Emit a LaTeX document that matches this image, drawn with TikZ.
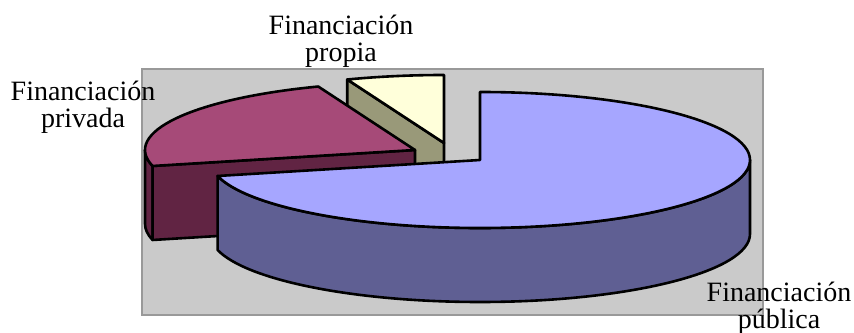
\documentclass[tikz,border=0pt]{standalone}
\usepackage{fontspec}
\setmainfont{Liberation Serif}

\definecolor{pubtop}{HTML}{A6A6FF}
\definecolor{pubside}{HTML}{5F5F93}
\definecolor{privtop}{HTML}{A64A78}
\definecolor{privside}{HTML}{612443}
\definecolor{owntop}{HTML}{FFFFDA}
\definecolor{ownside}{HTML}{999979}
\definecolor{plotgray}{HTML}{CACACA}
\definecolor{framegray}{HTML}{999999}

\tikzset{
  slice/.style={draw=black, line width=2.6pt, line join=round},
  ell/.style={x radius=270, y radius=68},
  lbl/.style={align=center, inner sep=0pt, font=\fontsize{28}{27}\selectfont}
}

\begin{document}
\begin{tikzpicture}[x=1pt, y=1pt]
    \useasboundingbox (0,0) rectangle (854,332);

    \def\dep{74}

    %plot area:
    \filldraw[fill=plotgray, draw=framegray, line width=2.5pt] (142,17) rectangle (763,263);

    %own funding slice:
    \coordinate (own) at (444,189);
    \filldraw[slice, fill=ownside] (own) -- ++(111:270 and 68) -- ++(0,-\dep) -- ([yshift=-\dep]own) -- cycle;
    \filldraw[slice, fill=owntop] (own) -- ++(0,68) arc[ell, start angle=90, end angle=111] -- cycle;

    %private slice:
    \coordinate (priv) at (415,182);
    \filldraw[slice, fill=privside] ([shift={(180:270 and 68)}]priv) arc[ell, start angle=180, end angle=193.6]
        -- ++(0,-\dep) arc[ell, start angle=193.6, end angle=180] -- cycle;
    \filldraw[slice, fill=privside] (priv) -- ++(193.6:270 and 68) -- ++(0,-\dep) -- ([yshift=-\dep]priv) -- cycle;
    \filldraw[slice, fill=privtop] (priv) -- ++(111:270 and 68) arc[ell, start angle=111, end angle=193.6] -- cycle;

    %public slice:
    \coordinate (pub) at (480,172);
    \filldraw[slice, fill=pubside] ([shift={(-166.4:270 and 68)}]pub) arc[ell, start angle=-166.4, end angle=0]
        -- ++(0,-\dep) arc[ell, start angle=0, end angle=-166.4] -- cycle;
    \filldraw[slice, fill=pubtop] (pub) -- ++(0,68) arc[ell, start angle=90, end angle=-166.4] -- cycle;

    %labels:
    \node[lbl] (ownlbl) at (341,291) {Financiación\\propia};
    \node[lbl] (privlbl) at (83,225) {Financiación\\privada};
    \node[lbl] (publbl) at (779,24) {Financiación\\pública};

\end{tikzpicture}
\end{document}
